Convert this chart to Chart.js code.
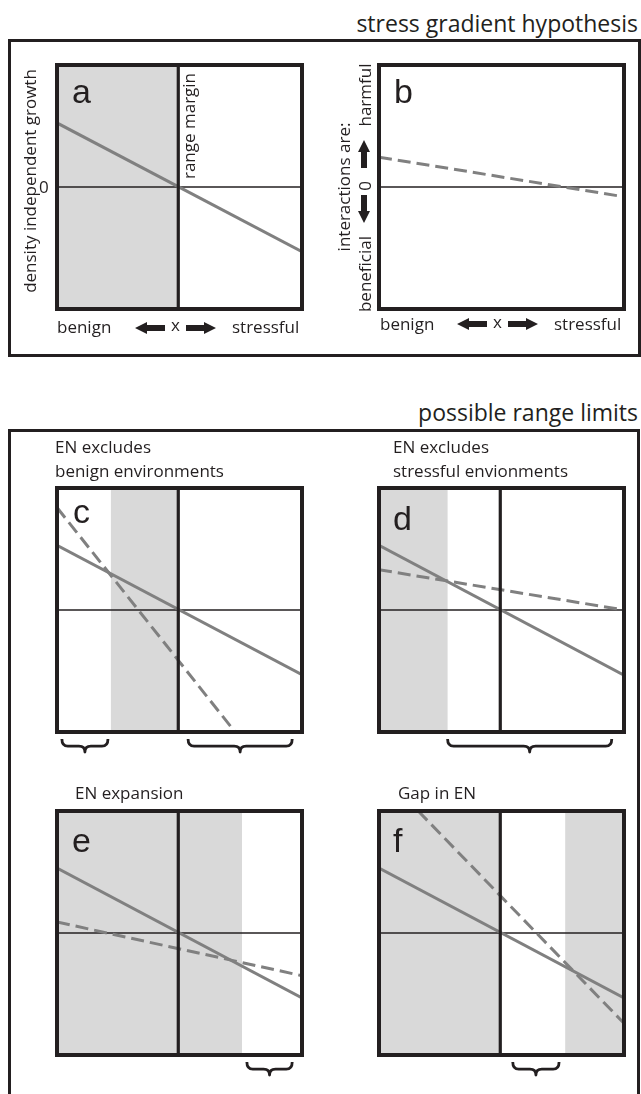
<!DOCTYPE html>
<html>
<head>
<meta charset="utf-8">
<script src="https://cdn.jsdelivr.net/npm/chart.js@4.4.1/dist/chart.umd.min.js"></script>
<style>
  html, body { margin: 0; padding: 0; background: #fff; }
  #page { position: relative; width: 641px; height: 1094px; overflow: hidden; font-family: "Open Sans", sans-serif; color: #231f20; }
  .box { position: absolute; box-sizing: border-box; border: 3px solid #231f20; }
  .txt { position: absolute; white-space: nowrap; line-height: 1; }
  .rot { position: absolute; width: 0; height: 0; }
  .rot span { position: absolute; white-space: nowrap; line-height: 1; font-size: 17px; transform: translate(-50%, -50%) rotate(-90deg); }
  .letter { font-family: "Liberation Sans", Arial, sans-serif; font-size: 34px; }
  canvas { position: absolute; }
  svg { position: absolute; overflow: visible; }
</style>
</head>
<body>
<div id="page">
  <div class="box" style="left:8px; top:39px; width:633px; height:318px;"></div>
  <div class="box" style="left:8px; top:429px; width:632px; height:720px;"></div>
</div>
<script>
// ---- data (x in % of panel width, y in half-heights; 0 = zero line) ----
const panelNames = ['a', 'b', 'c', 'd', 'e', 'f'];
const marginX = [49.5, null, 49.5, 49.5, 49.5, 49.5];   // vertical "range margin" line (none in b)
const growthX = [0, 100];
const growthY = [[0.525, -0.53], null, [0.53, -0.53], [0.53, -0.535], [0.533, -0.533], [0.533, -0.533]];
const interactX = [null, [0, 100], [0, 72.7], [0, 100], [0, 100], [16, 100]];
const interactY = [null, [0.245, -0.08], [0.84, -1], [0.33, 0], [0.09, -0.35], [1, -0.74]];
const shaded = [[[0, 49.5]], [], [[22, 49.5]], [[0, 28]], [[0, 75.5]], [[0, 49.5], [76, 100]]];
const braces = [[], [], [[2, 20.8], [53.5, 96]], [[28, 95]], [[77.5, 96]], [[54.6, 73.5]]];

// ---- layout ----
const PW = 245, PH = 244, PAD = 6, PAD_B = 30;
const panelPos = [[57, 65], [379, 65], [57, 488], [379, 488], [57, 811], [379, 811]];
const INK = '#231f20', LINE = '#808080', SHADE = '#d9d9d9';

const page = document.getElementById('page');

function addText(str, x, baseline, size, opts = {}) {
  const d = document.createElement('div');
  d.className = 'txt' + (opts.cls ? ' ' + opts.cls : '');
  d.textContent = str;
  d.style.fontSize = size + 'px';
  const asc = opts.cls === 'letter' ? 0.8465 : 0.888;
  d.style.top = (baseline - asc * size) + 'px';
  if (opts.right) d.style.right = (641 - x) + 'px';
  else d.style.left = x + 'px';
  page.appendChild(d);
}

function addRot(str, cx, cy) {
  const d = document.createElement('div');
  d.className = 'rot';
  d.style.left = cx + 'px';
  d.style.top = cy + 'px';
  const s = document.createElement('span');
  s.textContent = str;
  d.appendChild(s);
  page.appendChild(d);
}

function addArrow(x, y, dir) {
  const ns = 'http://www.w3.org/2000/svg';
  const svg = document.createElementNS(ns, 'svg');
  const horiz = dir === 'left' || dir === 'right';
  svg.setAttribute('width', horiz ? 30 : 12);
  svg.setAttribute('height', horiz ? 12 : 28);
  svg.style.left = x + 'px';
  svg.style.top = y + 'px';
  const p = document.createElementNS(ns, 'polygon');
  const pts = {
    right: '0,3 18,3 18,0 30,6 18,12 18,9 0,9',
    left: '30,3 12,3 12,0 0,6 12,12 12,9 30,9',
    up: '3,28 3,12 0,12 6,0 12,12 9,12 9,28',
    down: '3,0 3,16 0,16 6,28 12,16 9,16 9,0'
  }[dir];
  p.setAttribute('points', pts);
  p.setAttribute('fill', INK);
  svg.appendChild(p);
  page.appendChild(svg);
}

// titles and headers
addText('stress gradient hypothesis', 638, 32, 23, { right: true });
addText('possible range limits', 638, 421, 23, { right: true });
addText('EN excludes', 55, 453, 17);
addText('benign environments', 55, 477, 17);
addText('EN excludes', 393, 453, 17);
addText('stressful envionments', 393, 477, 17);
addText('EN expansion', 75, 799, 17);
addText('Gap in EN', 398, 799, 17);

// panel letters
const letterPos = [[72, 103], [394, 103], [73, 523], [393, 530], [72, 852], [393, 852]];
panelNames.forEach((n, i) => addText(n, letterPos[i][0], letterPos[i][1], 34, { cls: 'letter' }));

// axis labels, panel a
addRot('density independent growth', 28.5, 181);
addText('0', 39, 193, 17);
addRot('range margin', 188, 126);
addText('benign', 57, 333, 17);
addArrow(135, 322, 'left');
addText('x', 171, 331, 17);
addArrow(186, 322, 'right');
addText('stressful', 232, 333, 17);

// axis labels, panel b
addRot('interactions are:', 342.5, 187);
addRot('harmful', 364, 95);
addRot('0', 364, 186);
addRot('beneficial', 364, 274);
addArrow(358, 140, 'up');
addArrow(358, 195, 'down');
addText('benign', 380, 330, 17);
addArrow(457, 318, 'left');
addText('x', 493, 328, 17);
addArrow(508, 318, 'right');
addText('stressful', 554, 330, 17);

// shading, zero line, margin line, frame and braces
const panelPlugin = {
  id: 'panel',
  beforeDatasetsDraw(chart, args, opts) {
    const { ctx, chartArea: a, scales: { x, y } } = chart;
    ctx.save();
    ctx.fillStyle = SHADE;
    for (const [s, e] of opts.shade) {
      const x0 = x.getPixelForValue(s), x1 = x.getPixelForValue(e);
      ctx.fillRect(x0, a.top, x1 - x0, a.bottom - a.top);
    }
    ctx.strokeStyle = INK;
    ctx.lineWidth = 1.3;
    const y0 = y.getPixelForValue(0);
    ctx.beginPath();
    ctx.moveTo(a.left, y0);
    ctx.lineTo(a.right, y0);
    ctx.stroke();
    ctx.restore();
  },
  afterDatasetsDraw(chart, args, opts) {
    const { ctx, chartArea: a, scales: { x } } = chart;
    ctx.save();
    ctx.strokeStyle = INK;
    if (opts.margin != null) {
      ctx.lineWidth = 3.2;
      const xm = x.getPixelForValue(opts.margin);
      ctx.beginPath();
      ctx.moveTo(xm, a.top);
      ctx.lineTo(xm, a.bottom);
      ctx.stroke();
    }
    ctx.lineWidth = 4;
    ctx.strokeRect(a.left, a.top, a.right - a.left, a.bottom - a.top);

    // curly braces under the panel
    ctx.lineWidth = 2.8;
    ctx.lineJoin = 'round';
    for (const [s, e] of opts.braces) {
      const x1 = x.getPixelForValue(s), x2 = x.getPixelForValue(e);
      const t = a.bottom + 7, h = 13, m = t + h * 0.55, c = (x1 + x2) / 2;
      const r = Math.min(6, (x2 - x1) / 4);
      ctx.beginPath();
      ctx.moveTo(x1, t);
      ctx.quadraticCurveTo(x1, m, x1 + r, m);
      ctx.lineTo(c - r, m);
      ctx.quadraticCurveTo(c, m, c, t + h);
      ctx.quadraticCurveTo(c, m, c + r, m);
      ctx.lineTo(x2 - r, m);
      ctx.quadraticCurveTo(x2, m, x2, t);
      ctx.stroke();
    }
    ctx.restore();
  }
};

panelNames.forEach((name, i) => {
  const [left, top] = panelPos[i];
  const cv = document.createElement('canvas');
  cv.id = 'panel-' + name;
  cv.width = PW + 2 * PAD;
  cv.height = PH + PAD + PAD_B;
  cv.style.left = (left - PAD) + 'px';
  cv.style.top = (top - PAD) + 'px';
  cv.style.width = cv.width + 'px';
  cv.style.height = cv.height + 'px';
  page.insertBefore(cv, page.firstChild.nextSibling);

  const datasets = [];
  if (growthY[i]) {
    datasets.push({
      label: 'growth',
      data: growthX.map((xv, k) => ({ x: xv, y: growthY[i][k] })),
      borderColor: LINE,
      borderWidth: 3
    });
  }
  if (interactY[i]) {
    datasets.push({
      label: 'interactions',
      data: interactX[i].map((xv, k) => ({ x: xv, y: interactY[i][k] })),
      borderColor: LINE,
      borderWidth: 3,
      borderDash: [13, 6]
    });
  }

  new Chart(cv, {
    type: 'line',
    data: { datasets },
    options: {
      responsive: false,
      animation: false,
      events: [],
      layout: { padding: { left: PAD, right: PAD, top: PAD, bottom: PAD_B } },
      elements: { point: { radius: 0 }, line: { tension: 0 } },
      scales: {
        x: { type: 'linear', min: 0, max: 100, display: false },
        y: { type: 'linear', min: -1, max: 1, display: false }
      },
      plugins: {
        legend: { display: false },
        tooltip: { enabled: false },
        panel: { shade: shaded[i], braces: braces[i], margin: marginX[i] }
      }
    },
    plugins: [panelPlugin]
  });
});
</script>
</body>
</html>
